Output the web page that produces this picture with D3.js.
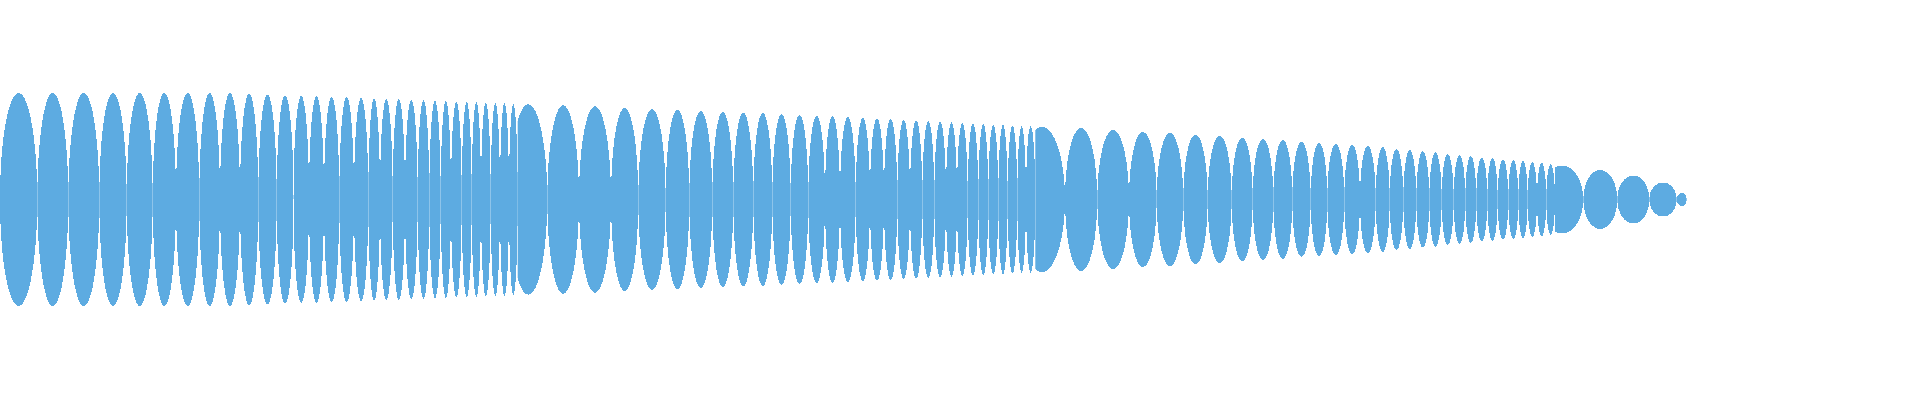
<!DOCTYPE html>
<html lang="en">
<head>
  <meta charset="UTF-8">
  <title>Chirp envelope</title>
  <script src="https://d3js.org/d3.v7.min.js"></script>
  <style>
    body {
      margin: 0;
      background: #fff;
    }
    .lobe {
      fill: #5dabe1;
      shape-rendering: crispEdges;
    }
  </style>
</head>
<body>
  <svg width="1920" height="400"></svg>
  <script>
    // lobe boundaries (sample position) and peak amplitude of each lobe
    const seg1Edges = [0, 37.3, 68.3, 99.3, 126.7, 152.7, 176, 199.3, 220, 240, 258.3, 276.7, 293.5,
      309, 324, 339.3, 354, 368.3, 380, 392.7, 405, 417.7, 429.3, 440.7, 451, 461.7, 471.7, 481,
      490.7, 500, 509, 517.7];
    const seg1Amps = [106.5, 106.5, 106.5, 106.5, 106.5, 106.5, 106.5, 106.5, 106.5, 105.8, 104.8,
      104.2, 103.5, 103.5, 102.5, 102.5, 101.5, 101.2, 100.5, 100.5, 99.5, 99.5, 98.5, 98.5, 97.8,
      97.5, 97.5, 96.8, 96.5, 96.5, 95.5];

    const seg2Edges = [517.7, 547.3, 579, 611, 638.3, 665.7, 689.3, 712.3, 733.3, 753.3, 772.3,
      790.7, 808.3, 825, 840, 855.7, 870, 884, 897.3, 910, 922.3, 934.3, 946, 957, 967.7, 978.3,
      988.3, 998.3, 1007.7, 1017.3, 1026, 1035.3, 1065];
    const seg2Amps = [95.2, 94.2, 93.2, 91.5, 90.5, 89.5, 88.5, 87.5, 86.8, 86.5, 85.2, 84.5, 83.5,
      83.2, 82.5, 81.5, 81.2, 80.5, 79.5, 79.2, 78.5, 77.8, 77.2, 76.5, 76.2, 75.5, 74.8, 74.5,
      73.8, 73.2, 73.2, 72.8];

    const seg3Edges = [1065, 1097.3, 1129, 1156.7, 1183.3, 1207.7, 1231.7, 1252.7, 1273.3, 1292.3,
      1310.7, 1327.3, 1344.3, 1360, 1375.7, 1389.7, 1403.3, 1416.3, 1429.3, 1441.7, 1453.7,
      1465.3, 1476.3, 1487.3, 1497.7, 1508.3, 1518.3, 1527.7, 1537, 1546.3, 1555];
    const seg3Amps = [71.5, 69.5, 67.5, 66.5, 64.8, 63.5, 61.8, 60.5, 59.5, 57.5, 56.5, 55.5, 54.8,
      53.5, 52.5, 50.5, 49.5, 48.2, 47.2, 45.5, 44.5, 43.5, 42.2, 41.2, 40.2, 39.5, 38.5, 37.5,
      36.8, 35.2];

    const tailEdges = [1555, 1583.3, 1617.3, 1649.3, 1676.7, 1686.7];
    const tailAmps = [34, 29.5, 24, 17, 6.5];

    // lobes whose peak sits left of centre (left side cut off at the lobe start)
    const skewedStarts = [517.7, 1035.3, 1555];
    const skewedPeaks = [528.3, 1042, 1562];

    const width = 1920;
    const height = 400;

    const svg = d3.select("svg")
      .attr("width", width)
      .attr("height", height);

    const x = d3.scaleLinear()
      .domain([0, 1920])
      .range([0, width]);

    const y = d3.scaleLinear()
      .domain([-200, 200])
      .range([399.5, -0.5]);

    const segments = [
      { edges: seg1Edges, amps: seg1Amps },
      { edges: seg2Edges, amps: seg2Amps },
      { edges: seg3Edges, amps: seg3Amps },
      { edges: tailEdges, amps: tailAmps }
    ];

    const lobes = segments.flatMap(s =>
      s.amps.map((a, i) => {
        const x0 = s.edges[i], x1 = s.edges[i + 1];
        const k = skewedStarts.indexOf(x0);
        const peak = k >= 0 ? skewedPeaks[k] : (x0 + x1) / 2;
        return { x0, x1, peak, amp: a };
      }));

    const defs = svg.append("defs");
    defs.selectAll("clipPath")
      .data(lobes)
      .enter().append("clipPath")
      .attr("id", (d, i) => "lobe-clip-" + i)
      .append("rect")
      .attr("x", d => x(d.x0))
      .attr("y", 0)
      .attr("width", d => x(d.x1) - x(d.x0))
      .attr("height", height);

    // each lobe is a symmetric ellipse around the zero line
    svg.selectAll(".lobe")
      .data(lobes)
      .enter().append("ellipse")
      .attr("class", "lobe")
      .attr("clip-path", (d, i) => `url(#lobe-clip-${i})`)
      .attr("cx", d => x(d.peak))
      .attr("cy", y(0))
      .attr("rx", d => x(d.x1) - x(d.peak))
      .attr("ry", d => y(0) - y(d.amp));
  </script>
</body>
</html>
